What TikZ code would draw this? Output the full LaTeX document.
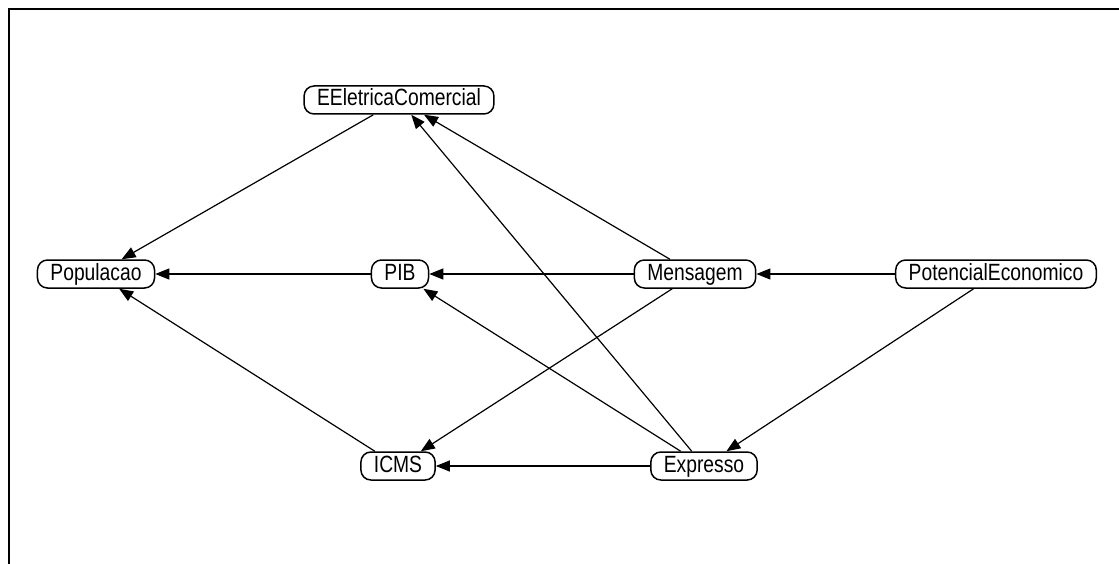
\documentclass[tikz,border=0pt]{standalone}
\usepackage{fontspec}
\setmainfont{Liberation Sans}[FakeStretch=0.82]
\usetikzlibrary{arrows.meta}

\begin{document}
\begin{tikzpicture}[x=1pt,y=-1pt,->,>={Triangle[length=14pt,width=11pt]},
                    line width=1.2pt]
  \tikzstyle{var}=[draw,line width=1.5pt,rounded corners=10pt,
                   font=\fontsize{23.5}{23.5}\selectfont,inner xsep=13pt,
                   inner ysep=0pt,minimum height=28pt,
                   text height=17pt,text depth=5pt]

  \useasboundingbox (0,0) rectangle (1119,564);
  \draw[-,line width=2pt] (9,564) -- (9,9) -- (1119,9);

  \node[var] (EE)  at (399,100) {EEletricaComercial};
  \node[var] (Pop) at (96,274)  {Populacao};
  \node[var] (PIB) at (400,274) {PIB};
  \node[var] (Men) at (695,274) {Mensagem};
  \node[var] (Pot) at (996,274) {PotencialEconomico};
  \node[var] (ICMS) at (398,466) {ICMS};
  \node[var] (Exp) at (704,466) {Expresso};

  \path (EE)  edge (Pop)
        (PIB) edge (Pop)
        (ICMS) edge (Pop)
        (Men) edge (EE)
        (Men) edge (PIB)
        (Men) edge (ICMS)
        (Exp) edge (EE)
        (Exp) edge (PIB)
        (Exp) edge (ICMS)
        (Pot) edge (Men)
        (Pot) edge (Exp);
\end{tikzpicture}
\end{document}
